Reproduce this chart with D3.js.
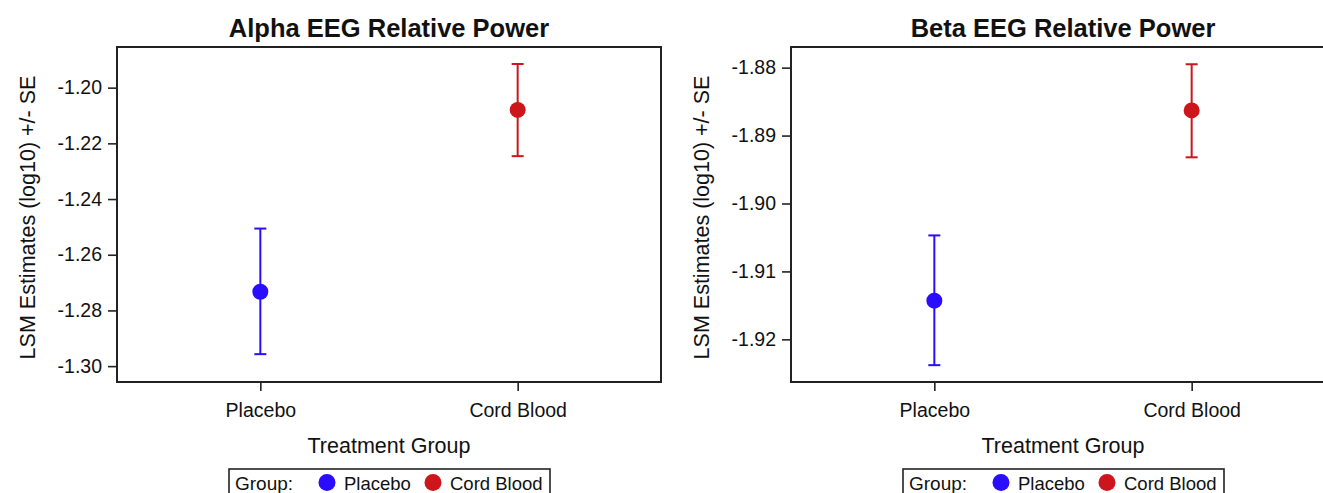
<!DOCTYPE html>
<html>
<head>
<meta charset="utf-8">
<script src="https://cdn.jsdelivr.net/npm/d3@7"></script>
<style>
  html, body { margin: 0; padding: 0; background: #fff; }
  svg { display: block; }
  text { font-family: "Liberation Sans", Arial, Helvetica, sans-serif; fill: #111; }
</style>
</head>
<body>
<svg id="chart" width="1323" height="493"></svg>
<script>
// ---- data ----
const categories = ["Placebo", "Cord Blood"];
const alphaMean  = [-1.2733, -1.2080];
const alphaLower = [-1.2957, -1.2246];
const alphaUpper = [-1.2506, -1.1915];
const alphaTicks = [-1.30, -1.28, -1.26, -1.24, -1.22, -1.20];
const alphaDomain = [-1.3057, -1.1854];

const betaMean  = [-1.9143, -1.8863];
const betaLower = [-1.9238, -1.8932];
const betaUpper = [-1.9047, -1.8795];
const betaTicks = [-1.92, -1.91, -1.90, -1.89, -1.88];
const betaDomain = [-1.92628, -1.87696];

const titles = ["Alpha EEG Relative Power", "Beta EEG Relative Power"];
const yLabel = "LSM Estimates (log10) +/- SE";
const xLabel = "Treatment Group";
const legendTitle = "Group:";

const colors = ["#2a0cff", "#cc161c"];

// ---- layout ----
const panels = [
  { left: 117, title: titles[0], mean: alphaMean, lower: alphaLower, upper: alphaUpper, ticks: alphaTicks, domain: alphaDomain },
  { left: 791, title: titles[1], mean: betaMean, lower: betaLower, upper: betaUpper, ticks: betaTicks, domain: betaDomain }
];
const plotTop = 47, plotBottom = 382, pw = 544;

const svg = d3.select("#chart");

panels.forEach(p => {
  const g = svg.append("g").attr("transform", `translate(${p.left},0)`);
  const x = d3.scalePoint().domain(categories).range([0, pw]).padding(0.557);
  const y = d3.scaleLinear().domain(p.domain).range([plotBottom, plotTop]);
  const cx = pw / 2;

  // title
  g.append("text").attr("x", cx).attr("y", 37).attr("text-anchor", "middle")
    .style("font-size", "25.5px").style("font-weight", "bold").text(p.title);

  // y axis
  const ya = g.append("g").call(d3.axisLeft(y).tickValues(p.ticks)
      .tickFormat(d => d.toFixed(2)).tickSize(9).tickPadding(6));
  ya.select(".domain").remove();
  ya.selectAll(".tick line").attr("stroke", "#222").attr("stroke-width", 1.6);
  ya.selectAll(".tick text").style("font-size", "19.5px").attr("fill", "#111")
    .style("font-family", "'Liberation Sans', Arial, sans-serif");

  // x axis
  const xa = g.append("g").attr("transform", `translate(0,${plotBottom})`)
    .call(d3.axisBottom(x).tickSize(9).tickPadding(12));
  xa.select(".domain").remove();
  xa.selectAll(".tick line").attr("stroke", "#222").attr("stroke-width", 1.6);
  xa.selectAll(".tick text").style("font-size", "19.5px").attr("fill", "#111")
    .style("font-family", "'Liberation Sans', Arial, sans-serif");

  // frame
  g.append("rect").attr("x", 0).attr("y", plotTop).attr("width", pw).attr("height", plotBottom - plotTop)
    .attr("fill", "none").attr("stroke", "#222").attr("stroke-width", 2);

  // error bars
  const data = categories.map((c, i) => ({ c, i, m: p.mean[i], lo: p.lower[i], hi: p.upper[i] }));
  const eb = g.selectAll(".eb").data(data).enter().append("g");
  eb.append("line").attr("x1", d => x(d.c)).attr("x2", d => x(d.c))
    .attr("y1", d => y(d.lo)).attr("y2", d => y(d.hi))
    .attr("stroke", d => colors[d.i]).attr("stroke-width", 2);
  ["lo", "hi"].forEach(k => {
    eb.append("line").attr("x1", d => x(d.c) - 6).attr("x2", d => x(d.c) + 6)
      .attr("y1", d => y(d[k])).attr("y2", d => y(d[k]))
      .attr("stroke", d => colors[d.i]).attr("stroke-width", 2);
  });
  eb.append("circle").attr("cx", d => x(d.c)).attr("cy", d => y(d.m)).attr("r", 8)
    .attr("fill", d => colors[d.i]);

  // axis labels
  g.append("text").attr("x", cx).attr("y", 453).attr("text-anchor", "middle")
    .style("font-size", "21.5px").text(xLabel);
  g.append("text").attr("transform", `translate(-82,${(plotTop + plotBottom) / 2 + 3}) rotate(-90)`)
    .attr("text-anchor", "middle").style("font-size", "21.5px").text(yLabel);

  // legend
  const lg = g.append("g").attr("transform", `translate(${cx - 160},469)`);
  lg.append("rect").attr("x", 0).attr("y", 0).attr("width", 321).attr("height", 30)
    .attr("fill", "none").attr("stroke", "#222").attr("stroke-width", 1.6);
  lg.append("text").attr("x", 6).attr("y", 21).style("font-size", "19px").text(legendTitle);
  const itemX = [98, 204];
  categories.forEach((c, i) => {
    lg.append("circle").attr("cx", itemX[i]).attr("cy", 13.5).attr("r", 8.5).attr("fill", colors[i]);
    lg.append("text").attr("x", itemX[i] + 17).attr("y", 21).style("font-size", "18.5px").text(c);
  });
});
</script>
</body>
</html>
